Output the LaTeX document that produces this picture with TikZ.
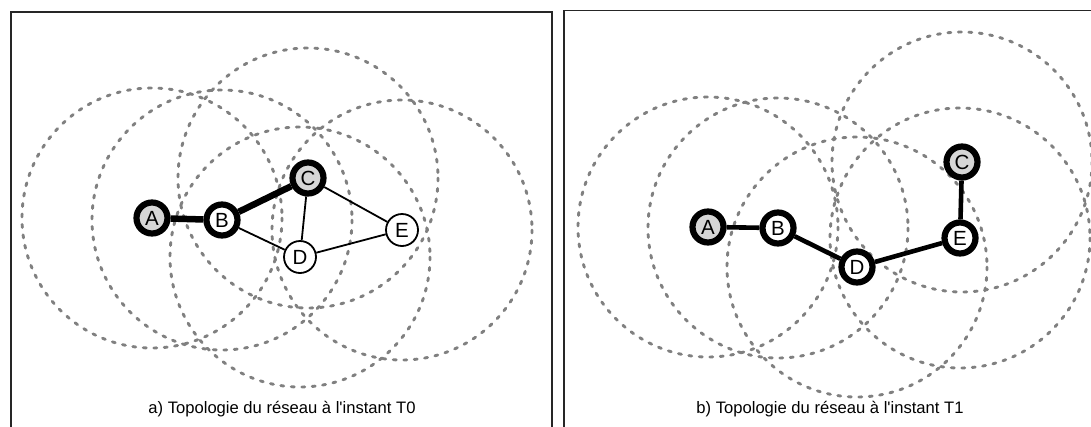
\documentclass[tikz,border=0pt]{standalone}
\usepackage{fontspec}
\setmainfont{Liberation Sans}
\newfontfamily\capfont{Liberation Sans}
\begin{document}
\begin{tikzpicture}[x=1pt,y=-1pt,
  rangecircle/.style={draw=black!50, line width=2.9pt, dash pattern=on 3pt off 7.5pt, line cap=round},
  thicknode/.style={circle, draw=black, line width=6.2pt, minimum size=31pt, inner sep=0pt, font=\fontsize{20.5}{20.5}\selectfont},
  thinnode/.style={circle, draw=black, line width=1.8pt, minimum size=32pt, inner sep=0pt, font=\fontsize{20.5}{20.5}\selectfont, fill=white},
  grayfill/.style={fill=black!16},
  whitefill/.style={fill=white},
  edgestrong/.style={line width=6.5pt},
  edgemedium/.style={line width=4.6pt},
  edgeweak/.style={line width=1.8pt},
  framebox/.style={draw=black!85, line width=1.6pt},
  caption/.style={font=\capfont\fontsize{16.6}{18}\selectfont}]
\useasboundingbox (0,0) rectangle (1091,426);
\clip (0,0) rectangle (1091,426);
% frames
\draw[framebox] (11,430) -- (11,12) -- (552,12) -- (552,430);
\draw[framebox] (564,430) -- (564,10.5) -- (1100,10.5);
% coordinates left
\coordinate (pA) at (152,218);
\coordinate (pB) at (222,220);
\coordinate (pC) at (308,178);
\coordinate (pD) at (300,257);
\coordinate (pE) at (402,230);
\foreach \p in {pA,pB,pC,pD,pE} \draw[rangecircle] (\p) circle (130);
% coordinates right
\coordinate (qA) at (708,227);
\coordinate (qB) at (778,228);
\coordinate (qC) at (962,162);
\coordinate (qD) at (857,267);
\coordinate (qE) at (960,238);
\foreach \p in {qA,qB,qC,qD,qE} \draw[rangecircle] (\p) circle (130);
% nodes left
\node[thicknode, grayfill] (A) at (pA) {A};
\node[thicknode, whitefill] (B) at (pB) {B};
\node[thicknode, grayfill] (C) at (pC) {C};
\node[thinnode] (D) at (pD) {D};
\node[thinnode] (E) at (pE) {E};
% edges left
\draw[edgestrong] (A) -- (B);
\draw[edgestrong] (B) -- (C);
\draw[edgeweak] (B) -- (D);
\draw[edgeweak] (C) -- (D);
\draw[edgeweak] (C) -- (E);
\draw[edgeweak] (D) -- (E);
% nodes right
\node[thicknode, grayfill] (A2) at (qA) {A};
\node[thicknode, whitefill] (B2) at (qB) {B};
\node[thicknode, grayfill] (C2) at (qC) {C};
\node[thicknode, whitefill] (D2) at (qD) {D};
\node[thicknode, whitefill] (E2) at (qE) {E};
\draw[edgemedium] (A2) -- (B2);
\draw[edgemedium] (B2) -- (D2);
\draw[edgemedium] (D2) -- (E2);
\draw[edgemedium] (E2) -- (C2);
% captions
\node[caption] (capa) at (282,409) {a) Topologie du réseau à l'instant T0};
\node[caption] (capb) at (830,409) {b) Topologie du réseau à l'instant T1};
\end{tikzpicture}
\end{document}
